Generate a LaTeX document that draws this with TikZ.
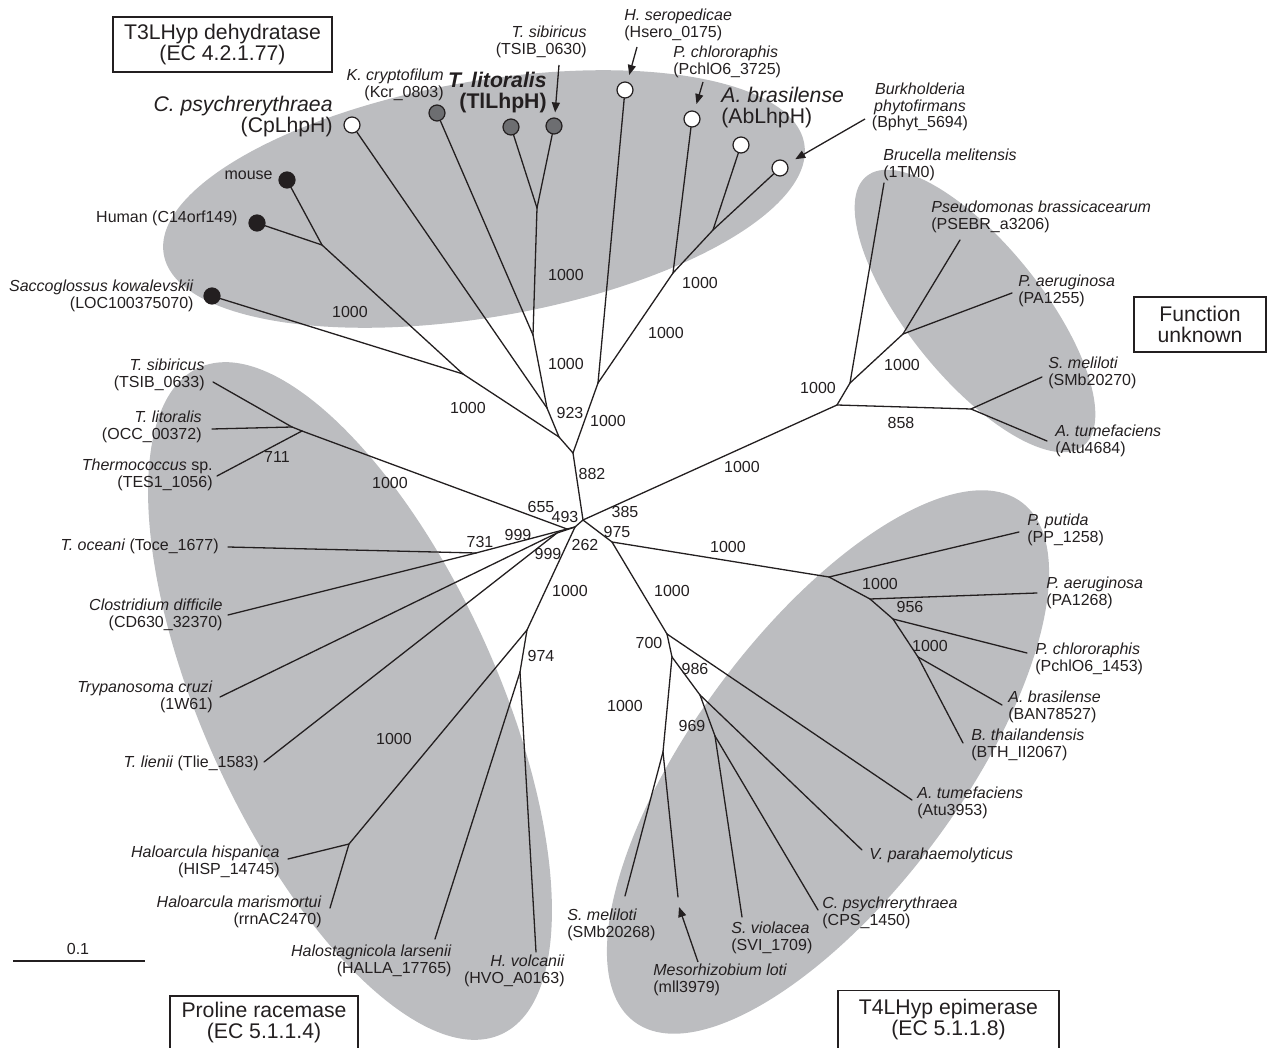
\documentclass[tikz,border=0pt]{standalone}
\usepackage{fontspec}
\setmainfont{Liberation Sans}
\usetikzlibrary{arrows.meta}
\definecolor{CladeGray}{RGB}{188,189,192}
\definecolor{DotGray}{RGB}{109,110,113}
\definecolor{InkBlack}{RGB}{35,31,32}
\newcommand{\lblfont}{\fontsize{8}{8.3}\selectfont}
\newcommand{\namefont}{\fontsize{10.6}{10.5}\selectfont}

\begin{document}
\begin{tikzpicture}[x=0.5pt,y=-0.5pt,>=Latex,
  branch/.style={InkBlack,line width=0.65pt,line cap=round},
  pointer/.style={InkBlack,line width=0.65pt,-{Triangle[length=5pt,width=4pt]},shorten >=3.5pt},
  leaf/.style={circle,draw=InkBlack,line width=0.6pt,minimum size=8pt,inner sep=0pt},
  openleaf/.style={leaf,fill=white},
  grayleaf/.style={leaf,fill=DotGray},
  blackleaf/.style={leaf,fill=InkBlack},
  lbl/.style={font=\lblfont,inner sep=0pt,text=InkBlack},
  namelbl/.style={font=\namefont,inner sep=0pt,text=InkBlack},
  ecbox/.style={draw=InkBlack,line width=0.7pt,font=\namefont,align=center,inner sep=0pt,text=InkBlack}]
 \useasboundingbox (0,0) rectangle (1271,1048);
 % clade ellipses
 \fill[CladeGray,rotate around={9.8:(484,199)}] (484,199) ellipse [x radius=325,y radius=118];
 \fill[CladeGray,rotate around={-51.2:(975,311)}] (975,311) ellipse [x radius=173,y radius=67];
 \fill[CladeGray,rotate around={53.3:(828,762)}] (828,762) ellipse [x radius=324,y radius=133];
 \fill[CladeGray,rotate around={-65.6:(350,701)}] (350,701) ellipse [x radius=366,y radius=147];
 % inner nodes
 \coordinate (c0) at (583,520);
 \coordinate (c493) at (575,527);
 \coordinate (c655) at (567,529);
 \coordinate (c999) at (557,533);
 \coordinate (c731) at (476,553);
 \coordinate (c262) at (527,630);
 \coordinate (c974) at (520,672);
 \coordinate (cHal) at (349,844);
 \coordinate (c711) at (302,431);
 \coordinate (cTli) at (292,427);
 \coordinate (c882) at (573,453);
 \coordinate (cU) at (559,437);
 \coordinate (cMam) at (463,374);
 \coordinate (cHM) at (322,245);
 \coordinate (c923) at (547,408);
 \coordinate (cK) at (533,335);
 \coordinate (cTl) at (537,208);
 \coordinate (cV) at (598,383);
 \coordinate (cW) at (673,273);
 \coordinate (cX) at (713,230);
 \coordinate (c385) at (837,405);
 \coordinate (cBru) at (850,383);
 \coordinate (cPse) at (903,334);
 \coordinate (c858) at (971,409);
 \coordinate (c975) at (612,542);
 \coordinate (cPp) at (829,577);
 \coordinate (cPa) at (870,599);
 \coordinate (c956) at (893,619);
 \coordinate (cAb) at (918,657);
 \coordinate (c700) at (667,634);
 \coordinate (c986) at (672,657);
 \coordinate (cVp) at (700,695);
 \coordinate (c969) at (715,736);
 \coordinate (cSm) at (663,752);
 % leaf tips
 \foreach \n/\x/\y in {tTsib/213/382,tTlit/212/429,tTes/217/476,tToce/228/547,tClos/228/615,
   tTryp/220/697,tTlie/264/762,tHisp/288/859,tMar/330/908,tHalla/435/939,tHvo/536/952,
   tBru/884/183,tPse/960/240,tPa1/1012/293,tSm1/1042/377,tAt1/1047/441,
   tPp/1019/532,tPa2/1037/593,tPch/1027/653,tBan/1002/705,tBth/963/743,tAt2/912/800,
   tVp/862/850,tCps/818/910,tSvi/742/917,tMll/678/897,tSm2/625/896}
   \coordinate (\n) at (\x,\y);
 % dots of the T3LHyp clade
 \node[openleaf] (dCp) at (352,125) {};
 \node[grayleaf] (dKcr) at (437,113) {};
 \node[grayleaf] (dTl1) at (511,127) {};
 \node[grayleaf] (dTl2) at (554,126) {};
 \node[openleaf] (dHse) at (625,90) {};
 \node[openleaf] (dPch) at (692,119) {};
 \node[openleaf] (dAb) at (741,145) {};
 \node[openleaf] (dBph) at (780,168) {};
 \node[blackleaf] (dMouse) at (287,180) {};
 \node[blackleaf] (dHuman) at (257,223) {};
 \node[blackleaf] (dSac) at (212,296) {};
 % branches
 \foreach \a/\b in {c0/c493,c493/c655,c655/c711,c711/tTes,c711/cTli,cTli/tTlit,cTli/tTsib,
   c655/c731,c731/tToce,c731/tClos,c493/c999,c999/tTryp,c999/tTlie,c493/c262,c262/cHal,
   cHal/tHisp,cHal/tMar,c262/c974,c974/tHalla,c974/tHvo,
   c0/c882,c882/cU,cU/cMam,cMam/cHM,cHM/dMouse,cHM/dHuman,cMam/dSac,cU/c923,c923/dCp,
   c923/cK,cK/dKcr,cK/cTl,cTl/dTl1,cTl/dTl2,c882/cV,cV/dHse,cV/cW,cW/dPch,cW/cX,cX/dAb,cX/dBph,
   c0/c385,c385/cBru,cBru/tBru,cBru/cPse,cPse/tPse,cPse/tPa1,c385/c858,c858/tSm1,c858/tAt1,
   c0/c975,c975/cPp,cPp/tPp,cPp/cPa,cPa/tPa2,cPa/c956,c956/tPch,c956/cAb,cAb/tBan,cAb/tBth,
   c975/c700,c700/tAt2,c700/c986,c986/cVp,cVp/tVp,cVp/c969,c969/tCps,c969/tSvi,
   c986/cSm,cSm/tMll,cSm/tSm2}
   \draw[branch] (\a) -- (\b);
 % bootstrap values
 \foreach \x/\y/\v [count=\i] in {541/507/655,565/517/493,625/512/385,617/532/975,585/545/262,
   518/535/999,548/554/999,480/542/731,592/474/882,570/413/923,608/421/1000,566/364/1000,
   566/275/1000,468/408/1000,350/312/1000,390/483/1000,277/457/711,742/467/1000,818/388/1000,
   902/365/1000,901/423/858,666/333/1000,700/283/1000,728/547/1000,880/584/1000,910/607/956,
   930/646/1000,570/591/1000,672/591/1000,649/643/700,695/669/986,692/726/969,625/706/1000,
   541/656/974,394/739/1000}
   \node[lbl] (bs\i) at (\x,\y) {\v};
 % T3LHyp clade labels
 \node[namelbl,align=right,anchor=east] (nCp) at (333,117) {\textit{C. psychrerythraea}\\(CpLhpH)};
 \node[lbl,align=right,anchor=east] (nKcr) at (444,85) {\textit{K. cryptofilum}\\(Kcr\_0803)};
 \node[namelbl,font=\namefont\bfseries,align=right,anchor=east] (nTl) at (547,93) {\textit{T. litoralis}\\(TlLhpH)};
 \node[lbl,align=right,anchor=east] (nTsib) at (587,42) {\textit{T. sibiricus}\\(TSIB\_0630)};
 \node[lbl,align=left,anchor=west] (nHse) at (624,25) {\textit{H. seropedicae}\\(Hsero\_0175)};
 \node[lbl,align=left,anchor=west] (nPch) at (673,62) {\textit{P. chlororaphis}\\(PchlO6\_3725)};
 \node[namelbl,align=left,anchor=west] (nAb) at (721,108) {\textit{A. brasilense}\\(AbLhpH)};
 \node[lbl,align=center] (nBph) at (920,107) {\textit{Burkholderia}\\\textit{phytofirmans}\\(Bphyt\_5694)};
 \node[lbl,anchor=east] (nMouse) at (273,175) {mouse};
 \node[lbl,anchor=east] (nHuman) at (238,218) {Human (C14orf149)};
 \node[lbl,align=right,anchor=east] (nSac) at (194,296) {\textit{Saccoglossus kowalevskii}\\(LOC100375070)};
 % pointers
 \coordinate (aTsib) at (559,65);
 \coordinate (aHse) at (637,47);
 \coordinate (aPch) at (703,82);
 \coordinate (aBph) at (865,119);
 \coordinate (aMll) at (698,962);
 \coordinate (tMllArrow) at (679,907);
 \draw[pointer,shorten >=2.5pt] (aTsib) -- (dTl2);
 \draw[pointer] (aHse) -- (dHse);
 \draw[pointer] (aPch) -- (dPch);
 \draw[pointer,shorten >=4.5pt] (aBph) -- (dBph);
 \draw[pointer,shorten >=0pt] (aMll) -- (tMllArrow);
 % unknown clade labels
 \node[lbl,align=left,anchor=west] (nBru) at (883,165) {\textit{Brucella melitensis}\\(1TM0)};
 \node[lbl,align=left,anchor=west] (nPse) at (931,217) {\textit{Pseudomonas brassicacearum}\\(PSEBR\_a3206)};
 \node[lbl,align=left,anchor=west] (nPa1) at (1018,291) {\textit{P. aeruginosa}\\(PA1255)};
 \node[lbl,align=left,anchor=west] (nSm1) at (1048,373) {\textit{S. meliloti}\\(SMb20270)};
 \node[lbl,align=left,anchor=west] (nAt1) at (1055,441) {\textit{A. tumefaciens}\\(Atu4684)};
 % T4LHyp clade labels
 \node[lbl,align=left,anchor=west] (nPp) at (1027,530) {\textit{P. putida}\\(PP\_1258)};
 \node[lbl,align=left,anchor=west] (nPa2) at (1046,593) {\textit{P. aeruginosa}\\(PA1268)};
 \node[lbl,align=left,anchor=west] (nPch2) at (1035,659) {\textit{P. chlororaphis}\\(PchlO6\_1453)};
 \node[lbl,align=left,anchor=west] (nBan) at (1008,707) {\textit{A. brasilense}\\(BAN78527)};
 \node[lbl,align=left,anchor=west] (nBth) at (971,745) {\textit{B. thailandensis}\\(BTH\_II2067)};
 \node[lbl,align=left,anchor=west] (nAt2) at (917,803) {\textit{A. tumefaciens}\\(Atu3953)};
 \node[lbl,anchor=west] (nVp) at (869,855) {\textit{V. parahaemolyticus}};
 \node[lbl,align=left,anchor=west] (nCps) at (822,913) {\textit{C. psychrerythraea}\\(CPS\_1450)};
 \node[lbl,align=left,anchor=west] (nSvi) at (731,938) {\textit{S. violacea}\\(SVI\_1709)};
 \node[lbl,align=left,anchor=west] (nMll) at (653,980) {\textit{Mesorhizobium loti}\\(mll3979)};
 \node[lbl,align=left,anchor=west] (nSm2) at (567,925) {\textit{S. meliloti}\\(SMb20268)};
 % proline racemase clade labels
 \node[lbl,align=right,anchor=east] (nTsib2) at (205,375) {\textit{T. sibiricus}\\(TSIB\_0633)};
 \node[lbl,align=right,anchor=east] (nTlit2) at (202,427) {\textit{T. litoralis}\\(OCC\_00372)};
 \node[lbl,align=right,anchor=east] (nTes) at (213,475) {\textit{Thermococcus} sp.\\(TES1\_1056)};
 \node[lbl,anchor=east] (nToce) at (219,546) {\textit{T. oceani} (Toce\_1677)};
 \node[lbl,align=right,anchor=east] (nClos) at (223,615) {\textit{Clostridium difficile}\\(CD630\_32370)};
 \node[lbl,align=right,anchor=east] (nTryp) at (213,697) {\textit{Trypanosoma cruzi}\\(1W61)};
 \node[lbl,anchor=east] (nTlie) at (259,763) {\textit{T. lienii} (Tlie\_1583)};
 \node[lbl,align=right,anchor=east] (nHisp) at (280,862) {\textit{Haloarcula hispanica}\\(HISP\_14745)};
 \node[lbl,align=right,anchor=east] (nMar) at (322,912) {\textit{Haloarcula marismortui}\\(rrnAC2470)};
 \node[lbl,align=right,anchor=east] (nHalla) at (452,961) {\textit{Halostagnicola larsenii}\\(HALLA\_17765)};
 \node[lbl,align=right,anchor=east] (nHvo) at (565,971) {\textit{H. volcanii}\\(HVO\_A0163)};
 % scale bar
 \coordinate (sbL) at (13,961);
 \coordinate (sbR) at (145,961);
 \draw[branch,line cap=butt] (sbL) -- (sbR);
 \node[lbl] (sbLab) at (78,949) {0.1};
 % function boxes
 \node[ecbox,minimum width=109.5pt,minimum height=27.5pt] (boxT3) at (222.5,44.5) {T3LHyp dehydratase\\(EC 4.2.1.77)};
 \node[ecbox,minimum width=66pt,minimum height=27.5pt] (boxFU) at (1200,324.5) {Function\\unknown};
 \node[ecbox,minimum width=94pt,minimum height=27pt] (boxPR) at (264,1023) {Proline racemase\\(EC 5.1.1.4)};
 \node[ecbox,minimum width=110.5pt,minimum height=29pt] (boxT4) at (948.5,1019.5) {T4LHyp epimerase\\(EC 5.1.1.8)};
\end{tikzpicture}
\end{document}
